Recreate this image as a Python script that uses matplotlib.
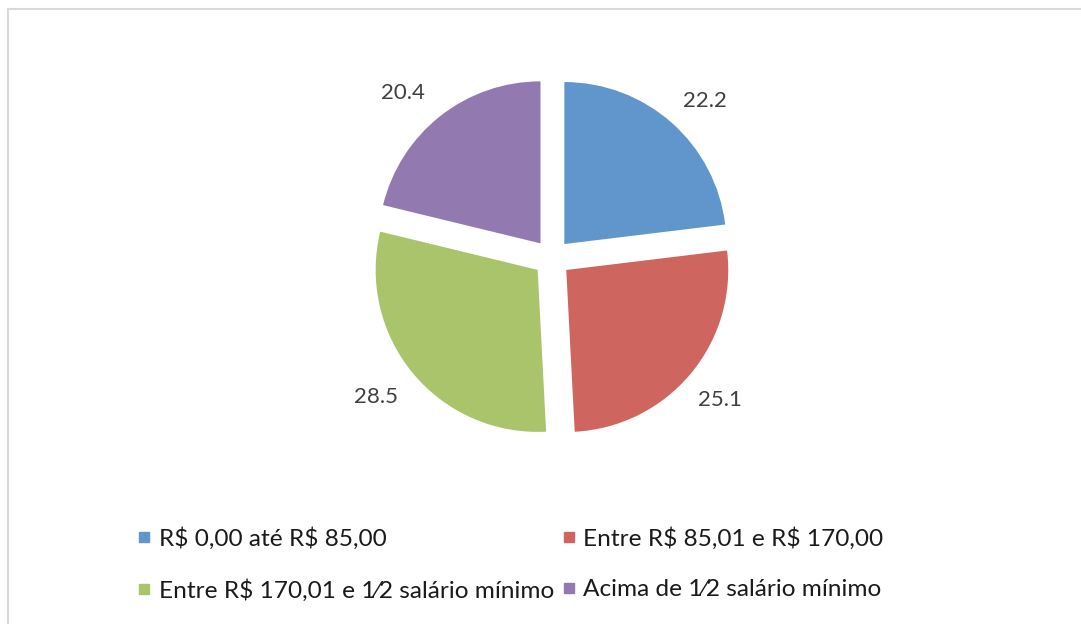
import matplotlib.pyplot as plt
import matplotlib.transforms as mtransforms
from matplotlib.lines import Line2D

# données du graphique
categorias = ["R\\$ 0,00 até R\\$ 85,00",
              "Entre R\\$ 85,01 e R\\$ 170,00",
              "Entre R\\$ 170,01 e 1\u20442 salário mínimo",
              "Acima de 1\u20442 salário mínimo"]
valores = [22.2, 25.1, 28.5, 20.4]
cores = ["#6096CB", "#CE665F", "#AAC46B", "#927AB0"]

plt.rcParams['font.family'] = ['Lato', 'DejaVu Sans']

W, H = 1081, 624
fig = plt.figure(figsize=(W / 100, H / 100), dpi=100)

# cadre gris clair (haut et gauche)
fig.add_artist(Line2D([8 / W, 1], [1 - 8.5 / H, 1 - 8.5 / H], color="#d9d9d9", lw=1.5))
fig.add_artist(Line2D([8 / W, 8 / W], [0, 1 - 8.5 / H], color="#d9d9d9", lw=1.5))

# axe du camembert : rayon 162 px, centre (552, 258)
R = 162
cx, cy = 552, 258
half = 220
ax = fig.add_axes([(cx - half) / W, (H - cy - half) / H, 2 * half / W, 2 * half / H])
wedges, texts = ax.pie(valores, colors=cores, startangle=90, counterclock=False,
                       explode=[0.115] * 4, labels=[f"{v:.1f}" for v in valores],
                       labeldistance=1.25,
                       wedgeprops=dict(linewidth=0), textprops=dict(fontsize=16, color="#404040"))
for t in texts:
    t.set_ha("center")
    t.set_va("center")
    x, y = t.get_position()
    # petit décalage des étiquettes du haut (placement Excel "meilleur ajustement")
    if y > 0:
        dx = 6 if x > 0 else -12
        t.set_transform(t.get_transform() + mtransforms.ScaledTranslation(dx / 100, -9 / 100, fig.dpi_scale_trans))
    else:
        dx = -1 if x > 0 else -6
        dy = 0 if x > 0 else 2
        t.set_transform(t.get_transform() + mtransforms.ScaledTranslation(dx / 100, dy / 100, fig.dpi_scale_trans))
ax.set_xlim(-half / R, half / R)
ax.set_ylim(-half / R, half / R)
ax.set_aspect("equal")
ax.axis("off")

# légende sur deux colonnes (ordre ligne par ligne)
ordre = [0, 2, 1, 3]
handles = [Line2D([], [], marker="s", ls="none", color=cores[i], markersize=7) for i in ordre]
fig.legend(handles, [categorias[i] for i in ordre], ncol=2, frameon=False,
           loc="upper left", bbox_to_anchor=(116 / W, 1 - 505 / H),
           fontsize=17.6, handlelength=0.5, handletextpad=0.35,
           columnspacing=0.35, labelspacing=1.2, labelcolor="#1a1a1a")

fig.savefig("out.png", dpi=100)
